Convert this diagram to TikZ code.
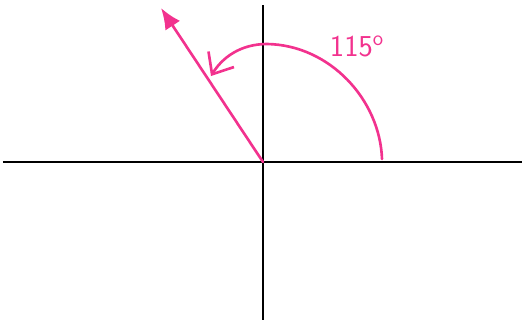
\documentclass[tikz,border=0pt]{standalone}
\usepackage{tikz}
\usetikzlibrary{arrows.meta}
\definecolor{penpink}{RGB}{242,50,142}
\tikzset{axis/.style={black, line width=1.4pt},
  pen/.style={penpink, line width=1.5pt, line cap=round, line join=round}}

\begin{document}
\begin{tikzpicture}[x=0.02cm, y=-0.02cm]
\useasboundingbox (0,0) rectangle (522,325);
\coordinate (O) at (263,162);
\coordinate (xl) at (3,162);
\coordinate (xr) at (522,162);
\coordinate (yt) at (263,5);
\coordinate (yb) at (263,320);
\coordinate (tip) at (161,8);
\coordinate (arcstart) at (382,159);
\coordinate (arctop) at (267,44);
\coordinate (arcend) at (211,76);
\draw[axis] (xl) -- (xr);
\draw[axis] (yt) -- (yb);
\draw[pen, -{Latex[length=12pt, width=10pt]}] (O) -- (tip);
\draw[pen, -{Straight Barb[length=10pt, width=17pt]}] (arcstart) .. controls (380,100) and (330,45) .. (arctop) .. controls (240,44) and (222,58) .. (arcend);
\node[penpink, font=\sffamily\LARGE] (angle) at (357,47) {115$^{\mathsf{o}}$};
\end{tikzpicture}
\end{document}
